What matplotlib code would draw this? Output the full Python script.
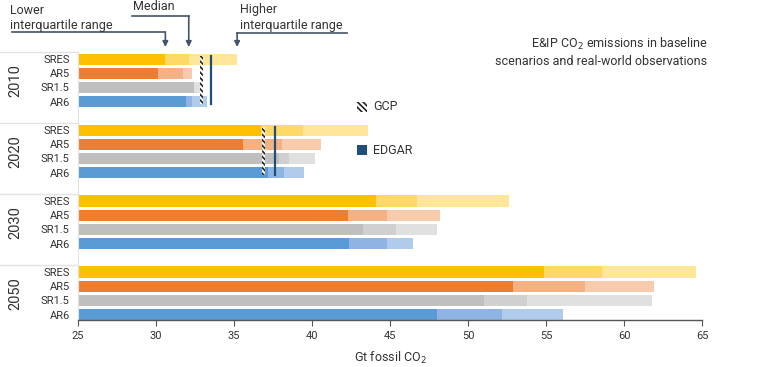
import numpy as np
import matplotlib as mpl
mpl.use('agg')
import matplotlib.pyplot as plt

plt.rcParams['font.family'] = ['Roboto', 'DejaVu Sans']
plt.rcParams['hatch.linewidth'] = 1.2

## Values (Gt fossil CO2)
years = ['2010', '2020', '2030', '2050']
scenarios = ['SRES', 'AR5', 'SR1.5', 'AR6']

# lower quartile / median / upper quartile, one row per year, columns follow scenarios
q1 = np.array([
    [30.6, 30.1, 32.45, 31.9],
    [36.7, 35.6, 37.9, 37.2],
    [44.1, 42.3, 43.3, 42.4],
    [54.9, 52.9, 51.0, 48.0],
])
med = np.array([
    [32.1, 31.7, 32.45, 32.3],
    [39.4, 38.1, 38.5, 38.2],
    [46.7, 44.8, 45.4, 44.8],
    [58.6, 57.5, 53.8, 52.2],
])
q3 = np.array([
    [35.2, 32.3, 32.85, 33.3],
    [43.6, 40.6, 40.2, 39.5],
    [52.6, 48.2, 48.0, 46.5],
    [64.6, 61.9, 61.8, 56.1],
])

obs_years = ['2010', '2020']
gcp = [32.9, 36.9]
edgar = [33.5, 37.6]

## colours: dark / mid / light per scenario
colors = {
    'SRES': ['#FFC000', '#FFD966', '#FFE699'],
    'AR5': ['#ED7D31', '#F4B183', '#F8CBAD'],
    'SR1.5': ['#BFBFBF', '#D0D0D0', '#E0E0E0'],
    'AR6': ['#5B9BD5', '#8DB4E2', '#B0CCEA'],
}
ann_color = '#44546A'
text_color = '#333333'

W, H = 768, 367
fig = plt.figure(figsize=(W / 100, H / 100), dpi=100)
ax = fig.add_axes([78 / W, 1 - 320 / H, 624 / W, 275 / H])

x0 = 25
bar_h = 0.78
ypos = []
ylabels = []
for g, yr in enumerate(years):
    for r, sc in enumerate(scenarios):
        y = 5 * g + r
        ypos.append(y)
        ylabels.append(sc)
        c = colors[sc]
        ax.barh(y, q1[g, r] - x0, left=x0, height=bar_h, color=c[0], linewidth=0)
        ax.barh(y, med[g, r] - q1[g, r], left=q1[g, r], height=bar_h, color=c[1], linewidth=0)
        ax.barh(y, q3[g, r] - med[g, r], left=med[g, r], height=bar_h, color=c[2], linewidth=0)
    # year label
    ax.text(-0.1, 5 * g + 1.5, yr, transform=mpl.transforms.blended_transform_factory(ax.transAxes, ax.transData),
            rotation=90, ha='center', va='center', fontsize=10.5, color=text_color)

## observations
for i, yr in enumerate(obs_years):
    g = years.index(yr)
    y_top, y_bot = 5 * g - 0.2, 5 * g + 3.2
    ax.bar(gcp[i], y_bot - y_top, bottom=y_top, width=0.2, color='white', edgecolor='#222222',
           hatch='\\\\\\\\\\\\', linewidth=0, zorder=4)
    ax.plot([edgar[i], edgar[i]], [y_top, y_bot], color='#1F4E79', lw=1.6, zorder=5)

ax.set_xlim(25, 65)
ax.set_ylim(18.38, -0.99)
ax.set_xticks(np.arange(25, 66, 5))
ax.set_yticks(ypos)
ax.set_yticklabels(ylabels, fontsize=8, color=text_color)
ax.tick_params(axis='y', length=0, pad=6)
ax.tick_params(axis='x', length=4, width=0.8, color='#555555', labelsize=8, labelcolor=text_color, pad=4)
ax.set_xlabel('Gt fossil CO$_2$', fontsize=9, color=text_color, labelpad=6)

for s in ['top', 'right']:
    ax.spines[s].set_visible(False)
ax.spines['bottom'].set_color('#555555')
ax.spines['bottom'].set_linewidth(1.0)
ax.spines['left'].set_color('#E3E3E3')
ax.spines['left'].set_bounds(-0.5, 18.38)

## group separators on the left
blend = mpl.transforms.blended_transform_factory(ax.transAxes, ax.transData)
for sep in [-0.5, 4.5, 9.5, 14.5]:
    ax.plot([-0.125, 0], [sep, sep], transform=blend, color='#E3E3E3', lw=1, clip_on=False)

## legend
ov = fig.add_axes([0, 0, 1, 1], zorder=10)
ov.set_xlim(0, W)
ov.set_ylim(H, 0)
ov.axis('off')
ov.add_patch(plt.Rectangle((357, 102), 10, 10, facecolor='white', edgecolor='#222222',
                           hatch='\\\\\\\\\\\\', linewidth=0))
ov.text(373, 107, 'GCP', va='center', fontsize=9, color=text_color)
ov.add_patch(plt.Rectangle((357, 145), 10, 10, facecolor='#1F4E79', linewidth=0))
ov.text(373, 150, 'EDGAR', va='center', fontsize=9, color=text_color)

ov.text(707, 52, 'E&IP CO$_2$ emissions in baseline\nscenarios and real-world observations',
        ha='right', va='center', fontsize=9, color=text_color, linespacing=1.35)

## interquartile annotations, pointing at the 2010 SRES bar
def px(val):
    return fig.transFigure.inverted().transform(ax.transData.transform((val, 0)))[0] * W

tip_y = 47
x_lo, x_md, x_hi = px(q1[0, 0]), px(med[0, 0]), px(q3[0, 0])
arrow = dict(arrowstyle='-|>', color=ann_color, lw=1.2, mutation_scale=8, shrinkA=0, shrinkB=0)

ov.text(10, 18, 'Lower\ninterquartile range', ha='left', va='center', fontsize=9, color=text_color,
        linespacing=1.3)
ov.plot([12, x_lo], [32, 32], color=ann_color, lw=1.2)
ov.annotate('', xy=(x_lo, tip_y), xytext=(x_lo, 32), arrowprops=arrow)

ov.text(133, 7, 'Median', ha='left', va='center', fontsize=9, color=text_color)
ov.plot([132, x_md], [16, 16], color=ann_color, lw=1.2)
ov.annotate('', xy=(x_md, tip_y), xytext=(x_md, 16), arrowprops=arrow)

ov.text(240, 18, 'Higher\ninterquartile range', ha='left', va='center', fontsize=9, color=text_color,
        linespacing=1.3)
ov.plot([347, x_hi], [33, 33], color=ann_color, lw=1.2)
ov.annotate('', xy=(x_hi, tip_y), xytext=(x_hi, 33), arrowprops=arrow)

fig.savefig('out.png', dpi=100)
